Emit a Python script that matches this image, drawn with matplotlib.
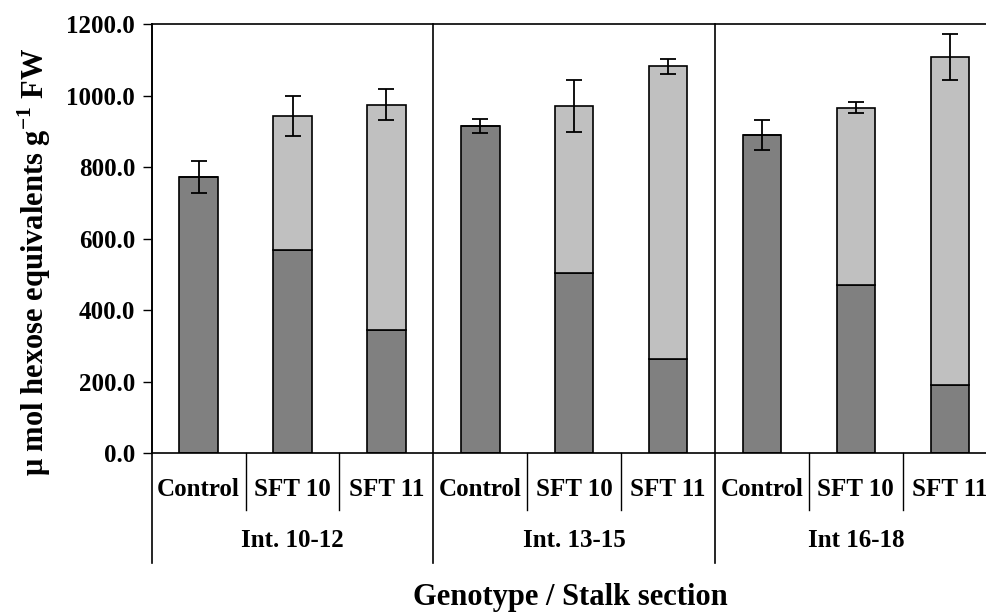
import matplotlib
matplotlib.use('Agg')
import matplotlib.pyplot as plt
import numpy as np

plt.rcParams['font.family'] = ['Liberation Serif', 'DejaVu Serif']
plt.rcParams['font.weight'] = 'bold'
plt.rcParams['mathtext.fontset'] = 'custom'
plt.rcParams['mathtext.rm'] = 'Liberation Serif'
plt.rcParams['mathtext.bf'] = 'Liberation Serif:bold'

sections = ['Int. 10-12', 'Int. 13-15', 'Int 16-18']
genotypes = ['Control', 'SFT 10', 'SFT 11']

# lower (dark) part and total height per bar, in group order
lower = [773, 568, 343, 916, 505, 263, 890, 469, 191]
total = [773, 944, 975, 916, 971, 1082, 890, 967, 1109]
err = [45, 56, 43, 20, 72, 21, 43, 16, 64]

upper = [t - l for t, l in zip(total, lower)]
x = np.arange(len(total)) + 0.5

fig = plt.figure(figsize=(9.87, 6.13), dpi=100)
ax = fig.add_axes([151.7 / 987, 160 / 613, 845 / 987, 428.7 / 613])

ax.bar(x, lower, width=0.41, color='#808080', edgecolor='black', linewidth=1.2, zorder=2)
ax.bar(x, upper, width=0.41, bottom=lower, color='#c0c0c0', edgecolor='black', linewidth=1.2, zorder=2)
ax.errorbar(x, total, yerr=err, fmt='none', ecolor='black', elinewidth=1.3,
            capsize=6, capthick=1.3, zorder=3)

ax.set_xlim(0, 9)
ax.set_ylim(0, 1200)
ax.set_yticks(np.arange(0, 1201, 200))
ax.set_yticklabels(['%.1f' % v for v in np.arange(0, 1201, 200)], fontsize=18, fontweight='bold')
ax.tick_params(axis='y', direction='out', length=6.5, width=1, pad=5.5)
ax.set_xticks([])
for s in ax.spines.values():
    s.set_linewidth(1.2)

trans = ax.get_xaxis_transform()
# separators between sections run through the plot and down past the labels
for b in [0, 3, 6]:
    ax.plot([b, b], [1, -0.2566], transform=trans, color='black', lw=1.2, clip_on=False, zorder=4)
# short separators between genotypes
for b in [1, 2, 4, 5, 7, 8]:
    ax.plot([b, b], [0, -0.133], transform=trans, color='black', lw=1, clip_on=False)

for i, xi in enumerate(x):
    ax.text(xi, -0.0863, genotypes[i % 3], transform=trans, ha='center', va='center',
            fontsize=18, fontweight='bold')
for j, name in enumerate(sections):
    ax.text(j * 3 + 1.5, -0.203, name, transform=trans, ha='center', va='center',
            fontsize=18, fontweight='bold')

fig.text(570 / 987, 1 - 598 / 613, 'Genotype / Stalk section', ha='center', va='center',
         fontsize=22, fontweight='bold')
fig.text(34 / 987, 1 - 262 / 613, r'$\mathbf{\mu}$ mol hexose equivalents g$^{\mathbf{-1}}$ FW',
         rotation=90, ha='center', va='center', fontsize=22, fontweight='bold')

fig.savefig('out.png', dpi=100)
